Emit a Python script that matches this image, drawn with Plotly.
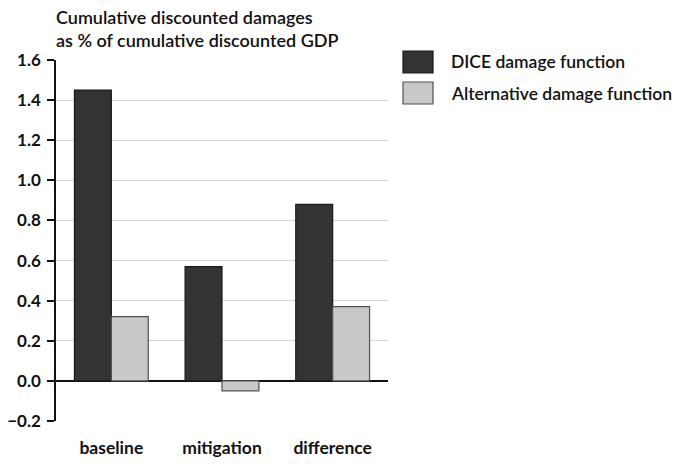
import plotly.graph_objects as go

# DATA
categories = ["baseline", "mitigation", "difference"]
series_names = ["DICE damage function", "Alternative damage function"]
dice_values = [1.45, 0.57, 0.88]
alt_values = [0.32, -0.05, 0.37]
y_ticks = [-0.2, 0.0, 0.2, 0.4, 0.6, 0.8, 1.0, 1.2, 1.4, 1.6]
title_lines = ["Cumulative discounted damages", "as % of cumulative discounted GDP"]

FILL = ["#333333", "#c8c8c8"]
EDGE = ["#1a1a1a", "#505050"]
FONT = "Lato"
INK = "#111111"

# plot area in pixels
W, H = 677, 464
L, R, T, B = 56, 289, 60, 43
PW, PH = W - L - R, H - T - B


def px_to_paper(x, y):
    return (x - L) / PW, (H - B - y) / PH


fig = go.Figure()
for name, vals, fill, edge in zip(series_names, [dice_values, alt_values], FILL, EDGE):
    fig.add_trace(go.Bar(x=categories, y=vals, name=name,
                         marker=dict(color=fill, line=dict(color=edge, width=1.2)),
                         showlegend=False))

# legend drawn by hand, big boxes like the reference
shapes = []
annotations = []
for i, (name, fill, edge) in enumerate(zip(series_names, FILL, EDGE)):
    top = 51 + i * 31
    x0, y0 = px_to_paper(403, top + 22)
    x1, y1 = px_to_paper(433, top)
    shapes.append(dict(type="rect", xref="paper", yref="paper", x0=x0, x1=x1, y0=y0, y1=y1,
                       fillcolor=fill, line=dict(color=edge, width=1.2), layer="above"))
    tx, ty = px_to_paper(449, top + 11)
    annotations.append(dict(text=name, xref="paper", yref="paper", x=tx, y=ty,
                            xanchor="left", yanchor="middle", showarrow=False,
                            font=dict(family=FONT, size=17.5, color=INK, weight=600)))

# two-line title as an annotation
tx, ty = px_to_paper(54, 4)
annotations.append(dict(text="<br>".join(title_lines), xref="paper", yref="paper", x=tx, y=ty,
                        xanchor="left", yanchor="top", align="left", showarrow=False,
                        font=dict(family=FONT, size=18, color=INK, weight=600)))

fig.update_layout(
    width=W, height=H,
    paper_bgcolor="white", plot_bgcolor="white",
    margin=dict(l=L, r=R, t=T, b=B, autoexpand=False),
    barmode="group", bargap=0.333, bargroupgap=0,
    font=dict(family=FONT),
    shapes=shapes,
    annotations=annotations,
    xaxis=dict(showline=False, showgrid=False, ticks="", automargin=False,
               tickfont=dict(family=FONT, size=17.5, color=INK, weight="bold"),
               ticklabelstandoff=14),
    yaxis=dict(range=[-0.2, 1.6], tickvals=y_ticks, tickformat=".1f", automargin=False,
               showline=True, linecolor=INK, linewidth=1.5,
               ticks="outside", ticklen=7, tickcolor=INK, tickwidth=1.5,
               showgrid=True, gridcolor="#d6d6d6", gridwidth=1,
               zeroline=True, zerolinecolor=INK, zerolinewidth=1.5,
               tickfont=dict(family=FONT, size=17, color=INK, weight="bold"),
               ticklabelstandoff=3),
)

fig.write_html("out.html", config={"displayModeBar": False},
               post_script="document.body.style.margin='0';")
